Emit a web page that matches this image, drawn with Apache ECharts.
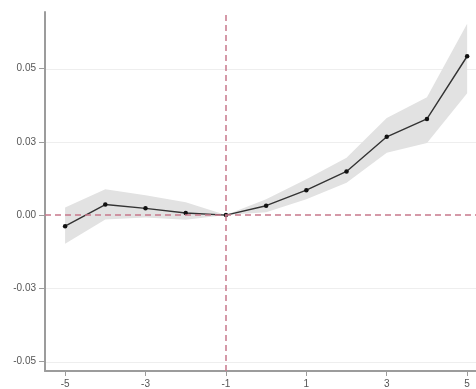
<!DOCTYPE html>
<html>
<head>
<meta charset="utf-8">
<script src="https://cdn.jsdelivr.net/npm/echarts@6/dist/echarts.min.js"></script>
<style>
  html, body { margin: 0; padding: 0; background: #fff; }
  #chart { width: 476px; height: 389px; }
</style>
</head>
<body>
<div id="chart"></div>
<script>
// Event-time periods relative to treatment
const periods = [-5, -4, -3, -2, -1, 0, 1, 2, 3, 4, 5];
// Point estimates
const estimate = [-0.0038, 0.0036, 0.0023, 0.0007, 0.0, 0.0032, 0.0085, 0.0149, 0.0267, 0.0328, 0.0542];
// Confidence interval bounds
const ciLower = [-0.0098, -0.0015, -0.0008, -0.0016, 0.0, 0.0010, 0.0054, 0.0110, 0.0213, 0.0246, 0.0416];
const ciUpper = [0.0026, 0.0088, 0.0068, 0.0044, 0.0, 0.0054, 0.0122, 0.0196, 0.0331, 0.0402, 0.0653];

// Axis ticks and their printed labels
const xTicks = [-5, -3, -1, 1, 3, 5];
const yTicks = [-0.05, -0.025, 0, 0.025, 0.05];
const yTickLabels = ['-0.05', '-0.03', '0.00', '0.03', '0.05'];

// Reference lines
const refX = -1;
const refY = 0;

const axisGray = '#9c9c9c';
const labelGray = '#555';
const refColor = '#c8788c';

const chart = echarts.init(document.getElementById('chart'), null, { renderer: 'canvas' });

const bandRows = periods.map((p, i) => [p, ciLower[i], ciUpper[i]]);
const estPts = periods.map((p, i) => [p, estimate[i]]);

// Confidence band drawn as one polygon: upper edge left-to-right, lower edge back
function renderBand(params, api) {
  if (params.dataIndex !== 0) return null;
  const upper = bandRows.map(r => api.coord([r[0], r[2]]));
  const lower = bandRows.map(r => api.coord([r[0], r[1]])).reverse();
  return {
    type: 'polygon',
    shape: { points: upper.concat(lower) },
    style: { fill: '#e2e2e2', stroke: null }
  };
}

// Faint horizontal gridlines across the plot at the labelled y ticks
function renderGrid(params, api) {
  if (params.dataIndex !== 0) return null;
  const cs = params.coordSys;
  const children = yTicks.filter(t => t !== refY).map(t => {
    const y = Math.round(api.coord([0, t])[1]) + 0.5;
    return {
      type: 'line',
      shape: { x1: cs.x + 1, y1: y, x2: cs.x + cs.width, y2: y },
      style: { stroke: '#eeeeee', lineWidth: 1 }
    };
  });
  return { type: 'group', children };
}

chart.setOption({
  animation: false,
  backgroundColor: '#fff',
  grid: { left: 45, top: 12, right: 0, bottom: 15, containLabel: false },
  xAxis: {
    type: 'value',
    min: -5.5,
    max: 5.22,
    axisLine: { show: true, onZero: false, lineStyle: { color: axisGray, width: 2 } },
    axisTick: { show: true, customValues: xTicks, length: 5, lineStyle: { color: axisGray, width: 1 } },
    axisLabel: {
      customValues: xTicks,
      margin: 8,
      color: labelGray,
      fontSize: 10,
      fontFamily: 'Liberation Sans, Arial, sans-serif',
      formatter: v => String(v)
    },
    splitLine: { show: false }
  },
  yAxis: {
    type: 'value',
    min: -0.0532,
    max: 0.0693,
    axisLine: { show: true, onZero: false, lineStyle: { color: axisGray, width: 2 } },
    axisTick: { show: true, customValues: yTicks, length: 6, lineStyle: { color: axisGray, width: 1 } },
    axisLabel: {
      customValues: yTicks,
      margin: 9,
      color: labelGray,
      fontSize: 10,
      fontFamily: 'Liberation Sans, Arial, sans-serif',
      formatter: v => {
        const i = yTicks.findIndex(t => Math.abs(t - v) < 1e-9);
        return i >= 0 ? yTickLabels[i] : '';
      }
    },
    splitLine: { show: false }
  },
  series: [
    {
      type: 'custom',
      data: [[0, 0]],
      renderItem: renderGrid,
      silent: true,
      clip: false,
      z: 0
    },
    {
      type: 'custom',
      data: bandRows,
      renderItem: renderBand,
      encode: { x: 0, y: [1, 2] },
      silent: true,
      clip: true,
      z: 1
    },
    {
      type: 'line',
      data: [],
      silent: true,
      z: 2,
      markLine: {
        silent: true,
        symbol: 'none',
        label: { show: false },
        lineStyle: { color: refColor, width: 1.5, type: [6, 4] },
        data: [{ yAxis: refY }, { xAxis: refX }]
      }
    },
    {
      type: 'line',
      data: estPts,
      symbol: 'circle',
      symbolSize: 4.5,
      itemStyle: { color: '#111' },
      lineStyle: { color: '#333', width: 1.4 },
      z: 3
    }
  ]
});
</script>
</body>
</html>
